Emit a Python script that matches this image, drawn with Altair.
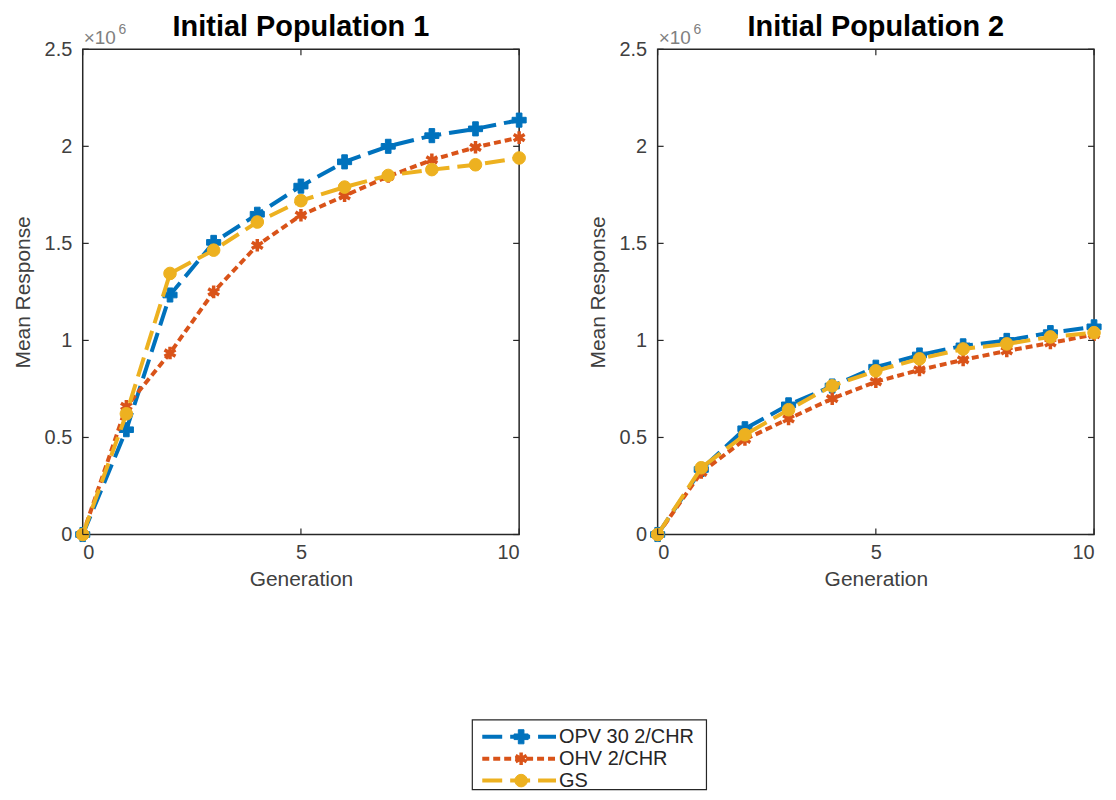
import altair as alt
import pandas as pd

# ---------------- data (values in units of 10^6) ----------------
generation = [0, 1, 2, 3, 4, 5, 6, 7, 8, 9, 10]
series_names = ["OPV 30 2/CHR", "OHV 2/CHR", "GS"]
panel_titles = ["Initial Population 1", "Initial Population 2"]

p1_opv = [0, 0.54, 1.234, 1.505, 1.65, 1.795, 1.92, 2.0, 2.055, 2.09, 2.135]
p1_ohv = [0, 0.66, 0.935, 1.25, 1.49, 1.645, 1.745, 1.845, 1.93, 1.995, 2.045]
p1_gs = [0, 0.622, 1.345, 1.465, 1.61, 1.72, 1.79, 1.85, 1.88, 1.905, 1.94]

p2_opv = [0, 0.335, 0.545, 0.668, 0.765, 0.862, 0.925, 0.972, 1.0, 1.04, 1.07]
p2_ohv = [0, 0.32, 0.49, 0.596, 0.70, 0.787, 0.848, 0.90, 0.946, 0.987, 1.03]
p2_gs = [0, 0.344, 0.514, 0.643, 0.766, 0.843, 0.905, 0.956, 0.982, 1.018, 1.04]

x_ticks = [0, 5, 10]
y_ticks = [0, 0.5, 1, 1.5, 2, 2.5]
exponent_base = ["\u00d710"]
exponent_power = ["6"]

# ---------------- styles ----------------
colors = ["#0072BD", "#D95319", "#EDB120"]
dashes = [[20, 8], [7, 4], [20, 8]]
asterisk = "M0,-1L0,1M-0.87,-0.5L0.87,0.5M-0.87,0.5L0.87,-0.5"
shapes = ["cross", asterisk, "circle"]
sizes = [200, 160, 160]
FONT = "Liberation Sans"
W, H = 438, 487
TXT = "#404040"
BOX = "#262626"

panels = [[p1_opv, p1_ohv, p1_gs], [p2_opv, p2_ohv, p2_gs]]

xscale = alt.Scale(domain=[0, 10], nice=False, zero=False)
yscale = alt.Scale(domain=[0, 2.5], nice=False)


def marker(base, i, enc):
    if shapes[i] == asterisk:
        m = base.mark_point(shape=asterisk, filled=False, stroke=colors[i],
                            strokeWidth=3.5, size=sizes[i], opacity=1)
    else:
        m = base.mark_point(shape=shapes[i], filled=True, fill=colors[i],
                            stroke=colors[i], strokeWidth=1,
                            size=sizes[i], opacity=1)
    return m.encode(**enc)


def make_panel(values, title):
    layers = []
    for i, name in enumerate(series_names):
        df = pd.DataFrame({"gen": generation, "val": values[i], "series": name})
        base = alt.Chart(df)
        if i == 0:
            xenc = alt.X("gen:Q", scale=xscale, title="Generation",
                         axis=alt.Axis(values=x_ticks, ticks=False, tickSize=0,
                                       domain=False, grid=False, labelPadding=8,
                                       titlePadding=6))
            yenc = alt.Y("val:Q", scale=yscale, title="Mean Response",
                         axis=alt.Axis(values=y_ticks, format="~g", ticks=False,
                                       tickSize=0, domain=False, grid=False,
                                       labelPadding=11, titlePadding=11))
        else:
            xenc = alt.X("gen:Q", scale=xscale)
            yenc = alt.Y("val:Q", scale=yscale)
        line = base.mark_line(color=colors[i], strokeWidth=4,
                              strokeDash=dashes[i]).encode(x=xenc, y=yenc)
        layers += [line, marker(base, i, dict(x="gen:Q", y="val:Q"))]

    # inward ticks (box style)
    xt = alt.Chart(pd.DataFrame({"t": x_ticks}))
    yt = alt.Chart(pd.DataFrame({"t": y_ticks}))
    tick_style = dict(color=BOX, strokeWidth=1.2)
    layers.append(xt.mark_rule(**tick_style).encode(
        x="t:Q", y=alt.value(H), y2=alt.value(H - 6)))
    layers.append(xt.mark_rule(**tick_style).encode(
        x="t:Q", y=alt.value(0), y2=alt.value(6)))
    layers.append(yt.mark_rule(**tick_style).encode(
        y="t:Q", x=alt.value(0), x2=alt.value(6)))
    layers.append(yt.mark_rule(**tick_style).encode(
        y="t:Q", x=alt.value(W), x2=alt.value(W - 6)))
    # exponent label
    layers.append(alt.Chart(pd.DataFrame({"lab": exponent_base})).mark_text(
        font=FONT, fontSize=19, color="#808080", align="left",
        baseline="alphabetic").encode(text="lab:N", x=alt.value(1), y=alt.value(-5)))
    layers.append(alt.Chart(pd.DataFrame({"lab": exponent_power})).mark_text(
        font=FONT, fontSize=14, color="#808080", align="left",
        baseline="alphabetic").encode(text="lab:N", x=alt.value(36), y=alt.value(-15)))
    # panel title
    layers.append(alt.Chart(pd.DataFrame({"lab": [title]})).mark_text(
        font=FONT, fontSize=29, fontWeight="bold", color="black",
        align="center", baseline="alphabetic"
    ).encode(text="lab:N", x=alt.value(W / 2), y=alt.value(-13)))

    return alt.layer(*layers).properties(
        width=W, height=H,
        view=alt.ViewBackground(stroke=BOX, strokeWidth=1.5))


top = alt.hconcat(make_panel(panels[0], panel_titles[0]),
                  make_panel(panels[1], panel_titles[1]), spacing=53)

# ---------------- custom legend ----------------
# legend view origin is aligned with the left panel's plot area
LW = 1000
LH = 70
leg_df = pd.DataFrame({"series": series_names})
ysc = alt.Y("series:N", sort=series_names, axis=None,
            scale=alt.Scale(type="point", domain=series_names, range=[17, 61],
                            padding=0))
box = alt.Chart(pd.DataFrame({"b": [1]})).mark_rect(
    fill="white", stroke=BOX, strokeWidth=1.2
).encode(x=alt.value(391), x2=alt.value(626), y=alt.value(0), y2=alt.value(LH))
leg_layers = [box]
for i, name in enumerate(series_names):
    d = alt.Chart(pd.DataFrame({"series": [name]}))
    leg_layers.append(d.mark_rule(color=colors[i], strokeWidth=4,
                                  strokeDash=dashes[i]).encode(
        y=ysc, x=alt.value(401), x2=alt.value(475)))
    leg_layers.append(marker(d, i, dict(y=ysc, x=alt.value(440))))
leg_layers.append(alt.Chart(leg_df).mark_text(
    font=FONT, fontSize=20, color=BOX, align="left", baseline="middle"
).encode(y=ysc, x=alt.value(478), text="series:N"))
legend = alt.layer(*leg_layers).properties(width=LW, height=LH)

chart = alt.vconcat(top, legend, spacing=129).configure_view(
    strokeWidth=0
).configure_axis(
    labelFont=FONT, titleFont=FONT, labelFontSize=20, titleFontSize=21,
    labelColor=TXT, titleColor=TXT, titleFontWeight="normal"
).properties(padding={"left": 3, "top": 3, "right": 0, "bottom": 0})

chart.save("out.html", embed_options={"renderer": "svg", "actions": False})
